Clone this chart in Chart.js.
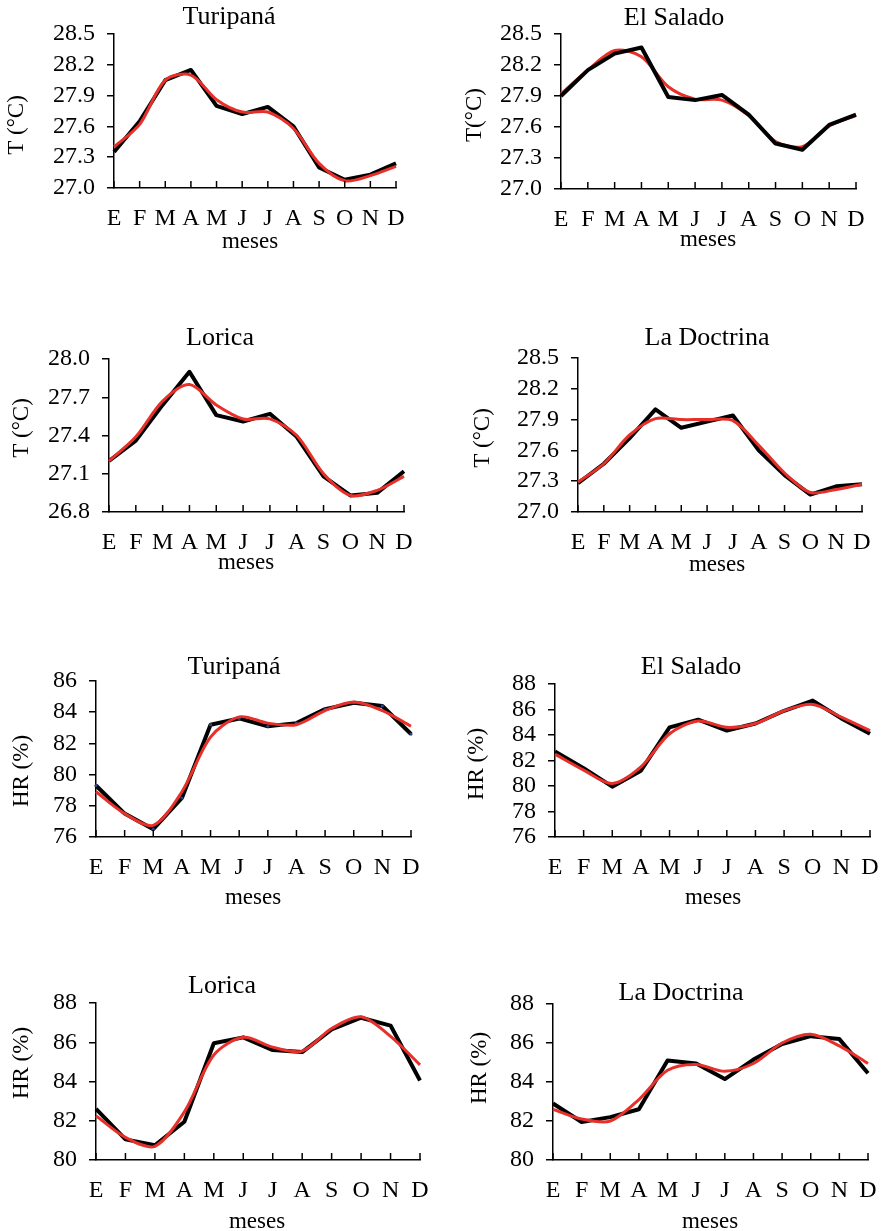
<!DOCTYPE html>
<html>
<head>
<meta charset="utf-8">
<script src="https://cdn.jsdelivr.net/npm/chart.js@4.4.0/dist/chart.umd.min.js"></script>
<style>
  html, body { margin: 0; padding: 0; background: #fff; }
  #page { position: relative; width: 883px; height: 1231px; overflow: hidden; background: #fff; }
  canvas { position: absolute; }
</style>
</head>
<body>
<div id="page"></div>
<script>
const months = ["E", "F", "M", "A", "M", "J", "J", "A", "S", "O", "N", "D"];

// temperatura media (observada = negro, ajustada = rojo)
const tTuripanaObs = [27.35, 27.65, 28.05, 28.15, 27.80, 27.72, 27.79, 27.60, 27.20, 27.08, 27.13, 27.24];
const tTuripanaFit = [27.40, 27.62, 28.05, 28.10, 27.86, 27.74, 27.74, 27.58, 27.24, 27.07, 27.12, 27.21];
const tSaladoObs = [27.90, 28.15, 28.31, 28.37, 27.89, 27.86, 27.91, 27.72, 27.44, 27.38, 27.62, 27.72];
const tSaladoFit = [27.92, 28.15, 28.34, 28.28, 27.99, 27.87, 27.86, 27.71, 27.46, 27.41, 27.61, 27.71];
const tLoricaObs = [27.20, 27.36, 27.64, 27.90, 27.56, 27.51, 27.57, 27.39, 27.08, 26.93, 26.95, 27.12];
const tLoricaFit = [27.20, 27.39, 27.67, 27.80, 27.64, 27.53, 27.53, 27.40, 27.10, 26.93, 26.97, 27.08];
const tDoctrinaObs = [27.28, 27.47, 27.72, 28.00, 27.82, 27.88, 27.94, 27.60, 27.36, 27.17, 27.25, 27.27];
const tDoctrinaFit = [27.29, 27.47, 27.75, 27.91, 27.90, 27.90, 27.89, 27.65, 27.38, 27.19, 27.22, 27.27];

// humedad relativa
const hrTuripanaObs = [79.3, 77.5, 76.5, 78.5, 83.2, 83.6, 83.1, 83.3, 84.2, 84.6, 84.4, 82.6];
const hrTuripanaFit = [78.9, 77.5, 76.75, 78.9, 82.4, 83.7, 83.3, 83.2, 84.1, 84.65, 84.1, 83.1];
const hrSaladoObs = [82.7, 81.4, 79.95, 81.2, 84.6, 85.2, 84.35, 84.9, 85.9, 86.7, 85.3, 84.1];
const hrSaladoFit = [82.5, 81.25, 80.2, 81.5, 84.1, 85.1, 84.6, 84.9, 85.9, 86.4, 85.4, 84.35];
const hrLoricaObs = [82.6, 81.05, 80.75, 81.95, 85.95, 86.25, 85.6, 85.5, 86.65, 87.25, 86.85, 84.05];
const hrLoricaFit = [82.25, 81.15, 80.7, 82.45, 85.35, 86.25, 85.75, 85.55, 86.7, 87.3, 86.3, 84.85];
const hrDoctrinaObs = [82.9, 81.95, 82.2, 82.6, 85.1, 84.95, 84.15, 85.15, 85.95, 86.35, 86.2, 84.45];
const hrDoctrinaFit = [82.6, 82.1, 82.0, 83.1, 84.6, 84.9, 84.55, 84.95, 86.0, 86.45, 85.85, 84.95];

const FONT = "'Liberation Serif', 'Times New Roman', serif";
const Y_W = 125, TOP_PAD = 50, RIGHT_PAD = 25, X_H = 85;

const panels = [
  { title: "Turipaná", yTitle: "T (°C)", obs: tTuripanaObs, fit: tTuripanaFit, min: 27.0, max: 28.5, step: 0.3, dec: 1,
    plot: [114, 34, 396, 188], titleAt: [229, 17], yTitleAt: [17, 125], xTitleAt: [250, 242] },
  { title: "El Salado", yTitle: "T(°C)", obs: tSaladoObs, fit: tSaladoFit, min: 27.0, max: 28.5, step: 0.3, dec: 1,
    plot: [561, 34, 856, 189], titleAt: [674, 18], yTitleAt: [475, 115], xTitleAt: [708, 240], blackTop: true },
  { title: "Lorica", yTitle: "T (°C)", obs: tLoricaObs, fit: tLoricaFit, min: 26.8, max: 28.0, step: 0.3, dec: 1,
    plot: [109, 359, 404, 512], titleAt: [220, 338], yTitleAt: [22, 428], xTitleAt: [246, 563] },
  { title: "La Doctrina", yTitle: "T (°C)", obs: tDoctrinaObs, fit: tDoctrinaFit, min: 27.0, max: 28.5, step: 0.3, dec: 1,
    plot: [578, 358, 862, 512], titleAt: [707, 338], yTitleAt: [483, 438], xTitleAt: [717, 565] },
  { title: "Turipaná", yTitle: "HR (%)", obs: hrTuripanaObs, fit: hrTuripanaFit, min: 76, max: 86, step: 2, dec: 0,
    plot: [96, 681, 411, 837], titleAt: [234, 667], yTitleAt: [22, 771], xTitleAt: [253, 898], dots: true },
  { title: "El Salado", yTitle: "HR (%)", obs: hrSaladoObs, fit: hrSaladoFit, min: 76, max: 88, step: 2, dec: 0,
    plot: [555, 684, 870, 837], titleAt: [691, 667], yTitleAt: [477, 764], xTitleAt: [713, 898] },
  { title: "Lorica", yTitle: "HR (%)", obs: hrLoricaObs, fit: hrLoricaFit, min: 80, max: 88, step: 2, dec: 0,
    plot: [96, 1003, 420, 1160], titleAt: [222, 986], yTitleAt: [22, 1063], xTitleAt: [257, 1222] },
  { title: "La Doctrina", yTitle: "HR (%)", obs: hrDoctrinaObs, fit: hrDoctrinaFit, min: 80, max: 88, step: 2, dec: 0,
    plot: [553, 1004, 868, 1160], titleAt: [681, 993], yTitleAt: [480, 1068], xTitleAt: [710, 1222] },
];

// ticks del eje x hacia adentro
const innerTicks = {
  id: "innerTicks",
  afterDatasetsDraw(chart) {
    const { ctx, scales: { x }, chartArea } = chart;
    ctx.save();
    ctx.strokeStyle = "#000";
    ctx.lineWidth = 1.5;
    for (let i = 0; i < months.length; i++) {
      const px = x.getPixelForTick(i);
      ctx.beginPath();
      ctx.moveTo(px, chartArea.bottom);
      ctx.lineTo(px, chartArea.bottom - 7);
      ctx.stroke();
    }
    ctx.restore();
  },
};

const panelText = {
  id: "panelText",
  afterDraw(chart, args, opts) {
    const { ctx } = chart;
    ctx.save();
    ctx.fillStyle = "#000";
    ctx.textAlign = "center";
    ctx.textBaseline = "middle";
    ctx.font = "26px " + FONT;
    ctx.fillText(opts.title, opts.titleAt[0] - opts.ox, opts.titleAt[1] - opts.oy);
    ctx.font = "23px " + FONT;
    ctx.fillText("meses", opts.xTitleAt[0] - opts.ox, opts.xTitleAt[1] - opts.oy);
    ctx.translate(opts.yTitleAt[0] - opts.ox, opts.yTitleAt[1] - opts.oy);
    ctx.rotate(-Math.PI / 2);
    ctx.fillText(opts.yTitle, 0, 0);
    ctx.restore();
  },
};

const page = document.getElementById("page");

panels.forEach((p) => {
  const [l, t, r, b] = p.plot;
  const ox = l - Y_W, oy = t - TOP_PAD;
  const canvas = document.createElement("canvas");
  canvas.width = Y_W + (r - l) + RIGHT_PAD;
  canvas.height = TOP_PAD + (b - t) + X_H;
  canvas.style.left = ox + "px";
  canvas.style.top = oy + "px";
  page.appendChild(canvas);

  new Chart(canvas, {
    type: "line",
    data: {
      labels: months,
      datasets: [
        {
          label: "observado",
          data: p.obs,
          borderColor: "#000",
          borderWidth: 4,
          tension: 0,
          pointRadius: p.dots ? 1.6 : 0,
          pointBackgroundColor: "#2b3f8f",
          pointBorderWidth: 0,
          borderJoinStyle: "round",
          order: p.blackTop ? 1 : 2,
        },
        {
          label: "ajustado",
          data: p.fit,
          borderColor: "#e8302a",
          borderWidth: 3,
          tension: 0.3,
          pointRadius: 0,
          borderJoinStyle: "round",
          order: p.blackTop ? 2 : 1,
        },
      ],
    },
    options: {
      responsive: false,
      animation: false,
      devicePixelRatio: 1,
      layout: { padding: { top: TOP_PAD, right: RIGHT_PAD, left: 0, bottom: 0 } },
      plugins: {
        legend: { display: false },
        tooltip: { enabled: false },
        panelText: { title: p.title, yTitle: p.yTitle, titleAt: p.titleAt, yTitleAt: p.yTitleAt, xTitleAt: p.xTitleAt, ox, oy },
      },
      scales: {
        x: {
          type: "category",
          offset: false,
          grid: { display: false, drawTicks: false },
          border: { display: true, color: "#000", width: 1.5 },
          ticks: { color: "#000", font: { family: FONT, size: 24 }, padding: 16, autoSkip: false, maxRotation: 0 },
          afterFit(s) { s.height = X_H; },
        },
        y: {
          min: p.min,
          max: p.max,
          grid: { display: true, drawOnChartArea: false, drawTicks: true, tickLength: 7, color: "#000", lineWidth: 1.5 },
          border: { display: true, color: "#000", width: 1.5 },
          ticks: {
            stepSize: p.step,
            autoSkip: false,
            color: "#000",
            font: { family: FONT, size: 24 },
            padding: 12,
            callback: (v) => Number(v).toFixed(p.dec),
          },
          afterFit(s) { s.width = Y_W; },
        },
      },
    },
    plugins: [innerTicks, panelText],
  });
});
</script>
</body>
</html>
